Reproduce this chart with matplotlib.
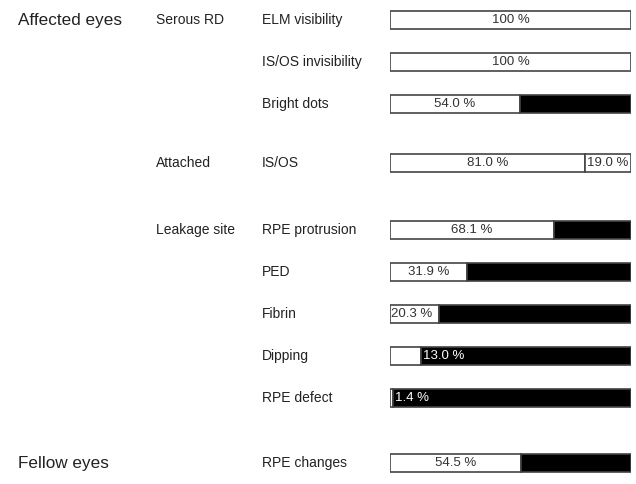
import matplotlib
matplotlib.use("Agg")
import matplotlib.pyplot as plt
from matplotlib.transforms import blended_transform_factory

plt.rcParams["font.family"] = ["Liberation Sans", "DejaVu Sans"]

# --- data ---
items = ["ELM visibility", "IS/OS invisibility", "Bright dots", "IS/OS",
         "RPE protrusion", "PED", "Fibrin", "Dipping", "RPE defect",
         "RPE changes"]
values = [100, 100, 54.0, 81.0, 68.1, 31.9, 20.3, 13.0, 1.4, 54.5]
value_labels = ["100 %", "100 %", "54.0 %", "81.0 %", "68.1 %", "31.9 %",
                "20.3 %", "13.0 %", "1.4 %", "54.5 %"]
rest_labels = ["", "", "", "19.0 %", "", "", "", "", "", ""]
rest_colors = ["black", "black", "black", "white", "black", "black",
               "black", "black", "black", "black"]
rows = [0, 1, 2, 3.4, 5, 6, 7, 8, 9, 10.55]

groups = ["Serous RD", "Attached", "Leakage site"]
group_rows = [0, 3.4, 5]
sections = ["Affected eyes", "Fellow eyes"]
section_rows = [0, 10.55]

W, H = 636, 484
fig = plt.figure(figsize=(W / 100, H / 100), dpi=100)
ax = fig.add_axes([390 / W, 0, 241 / W, 1])
ax.set_xlim(0, 100)
ax.set_ylim((H - 20) / 42, -20 / 42)
ax.set_axis_off()

edge = "#444444"
txt = "#333333"
bh = 0.43

for r, v, lab, rest, rc, rl in zip(rows, values, value_labels, rest_labels,
                                   rest_colors, rest_labels):
    ax.barh(r, v, height=bh, left=0, color="white", edgecolor=edge, lw=1.2)
    if v < 100:
        ax.barh(r, 100 - v, height=bh, left=v, color=rc, edgecolor=edge, lw=1.2)
    if v < 15:
        ax.text(v + 0.8, r, lab, color="white", fontsize=9.5,
                ha="left", va="center")
    elif v < 25:
        ax.text(0.5, r, lab, color=txt, fontsize=9.5, ha="left", va="center")
    else:
        ax.text(v / 2, r, lab, color=txt, fontsize=9.5, ha="center", va="center")
    if rl:
        ax.text((v + 100) / 2, r, rl, color=txt, fontsize=9.5,
                ha="center", va="center")

tr = blended_transform_factory(fig.transFigure, ax.transData)
for r, name in zip(rows, items):
    ax.text(262 / W, r, name, transform=tr, fontsize=10, color="#222222",
            ha="left", va="center")
for r, name in zip(group_rows, groups):
    ax.text(156 / W, r, name, transform=tr, fontsize=10, color="#222222",
            ha="left", va="center")
for r, name in zip(section_rows, sections):
    ax.text(18 / W, r, name, transform=tr, fontsize=12.3, color="#222222",
            ha="left", va="center")

fig.savefig("out.png", dpi=100)
